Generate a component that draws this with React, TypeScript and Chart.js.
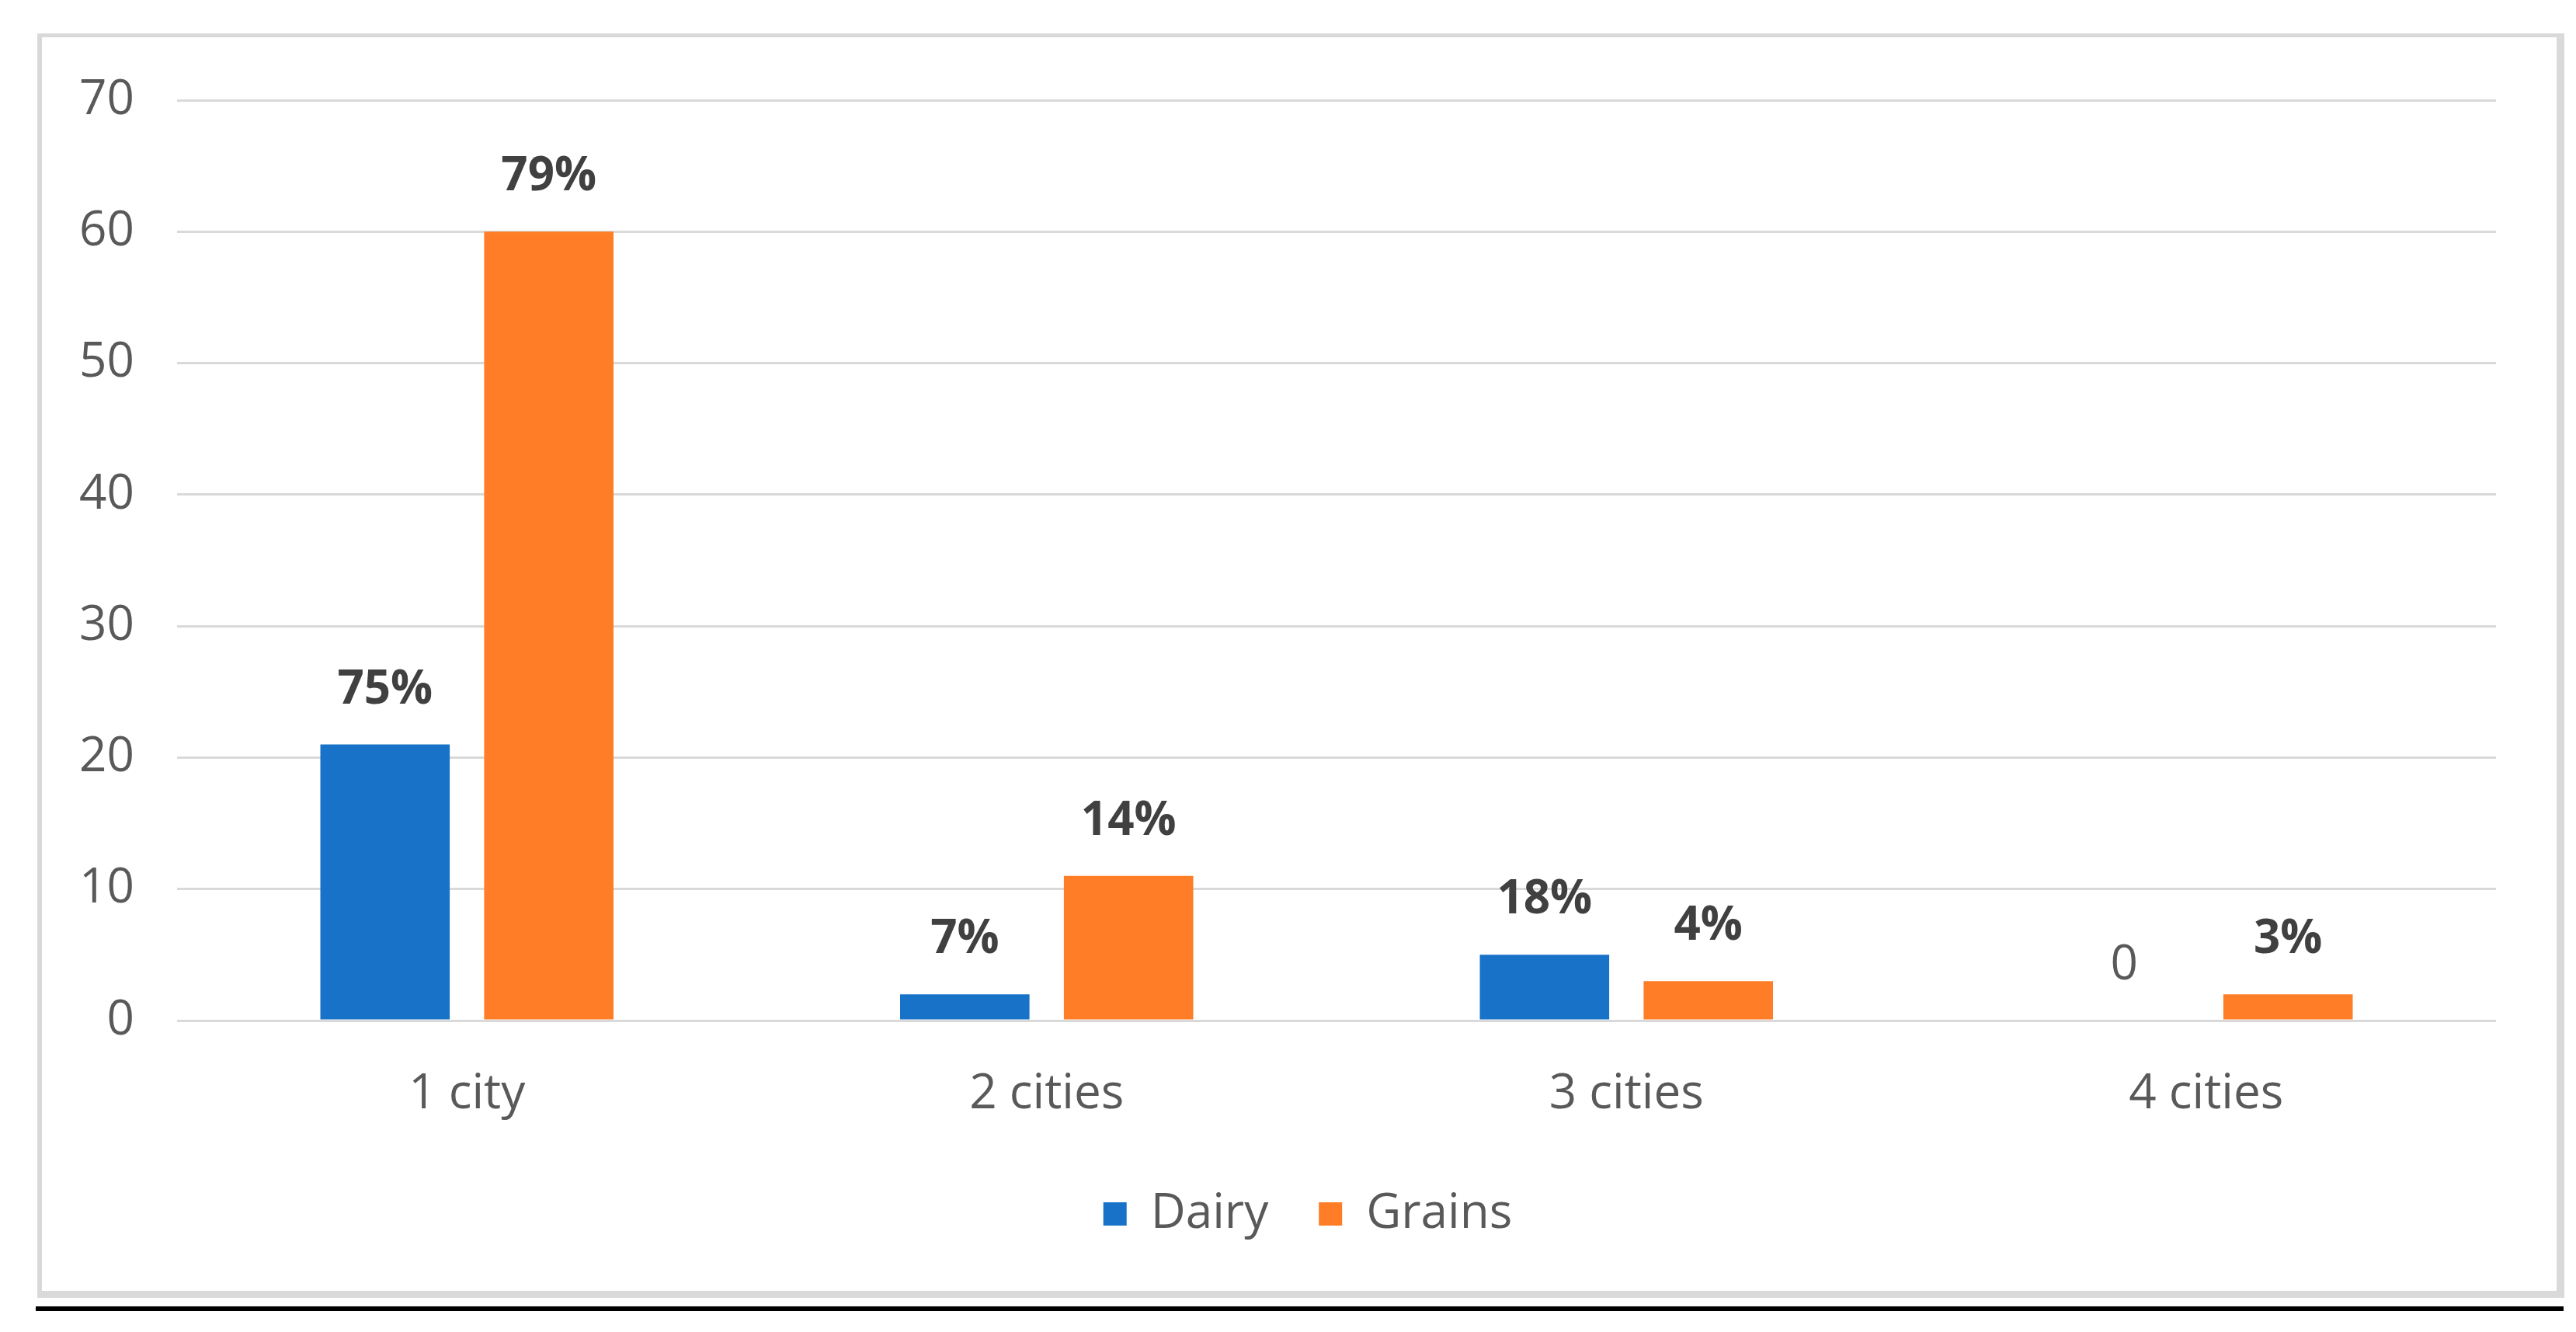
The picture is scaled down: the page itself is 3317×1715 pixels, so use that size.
import React, { useEffect, useRef } from "react";
import { Chart, registerables } from "chart.js";

Chart.register(...registerables);

const categories = ["1 city", "2 cities", "3 cities", "4 cities"];
const seriesNames = ["Dairy", "Grains"];
const dairyValues = [21, 2, 5, 0];
const grainsValues = [60, 11, 3, 2];
const dairyLabels = ["75%", "7%", "18%", "0"];
const grainsLabels = ["79%", "14%", "4%", "3%"];
const yMin = 0;
const yMax = 70;
const yStep = 10;

const seriesColors = ["#1772c8", "#fe7d26"];
const FONT = "'Open Sans', 'Noto Sans', sans-serif";

const dataLabelPlugin = {
  id: "dataLabels",
  afterDatasetsDraw(chart: any) {
    const ctx = chart.ctx;
    const labelSets = [dairyLabels, grainsLabels];
    chart.data.datasets.forEach((ds: any, di: number) => {
      const meta = chart.getDatasetMeta(di);
      meta.data.forEach((el: any, i: number) => {
        const text = labelSets[di][i];
        if (!text) return;
        const isPct = text.endsWith("%");
        ctx.save();
        ctx.font = isPct ? `bold 60px ${FONT}` : `62px ${FONT}`;
        ctx.fillStyle = isPct ? "#404040" : "#595959";
        ctx.textAlign = "center";
        ctx.textBaseline = "alphabetic";
        ctx.fillText(text, el.x, el.y - 53);
        ctx.restore();
      });
    });
  },
};

// centre the legend on the whole chart frame rather than on the canvas minus padding
const legendCenterPlugin = {
  id: "legendCenter",
  afterLayout(chart: any) {
    const lg = chart.legend;
    if (!lg) return;
    const target = 1684;
    const shift = target - (lg.left + lg.right) / 2;
    lg.left += shift;
    lg.right += shift;
  },
};

export default function App() {
  const canvasRef = useRef<HTMLCanvasElement | null>(null);

  useEffect(() => {
    if (!canvasRef.current) return;
    const chart = new Chart(canvasRef.current, {
      type: "bar",
      data: {
        labels: categories,
        datasets: [
          {
            label: seriesNames[0],
            data: dairyValues,
            backgroundColor: seriesColors[0],
            categoryPercentage: 0.565,
            barPercentage: 0.79,
          },
          {
            label: seriesNames[1],
            data: grainsValues,
            backgroundColor: seriesColors[1],
            categoryPercentage: 0.565,
            barPercentage: 0.79,
          },
        ],
      },
      options: {
        responsive: false,
        animation: false,
        devicePixelRatio: 1,
        layout: { padding: { left: 0, right: 103, top: 129, bottom: 111 } },
        plugins: {
          tooltip: { enabled: false },
          legend: {
            position: "bottom",
            labels: {
              boxWidth: 30,
              boxHeight: 30,
              padding: 65,
              color: "#595959",
              font: { family: FONT, size: 62 },
            },
          },
        },
        scales: {
          x: {
            grid: { display: false },
            border: { display: false },
            ticks: {
              color: "#595959",
              font: { family: FONT, size: 62 },
              padding: 50,
              maxRotation: 0,
            },
            afterFit: (scale: any) => {
              scale.height = 153;
            },
          },
          y: {
            min: yMin,
            max: yMax,
            grid: { color: "#d9d9d9", lineWidth: 3, drawTicks: false },
            border: { display: false },
            ticks: {
              stepSize: yStep,
              color: "#595959",
              font: { family: FONT, size: 62 },
              padding: 55,
            },
            afterFit: (scale: any) => {
              scale.width = 228;
            },
          },
        },
      },
      plugins: [dataLabelPlugin, legendCenterPlugin],
    });
    return () => chart.destroy();
  }, []);

  return (
    <div
      style={{
        position: "absolute",
        left: 0,
        top: 0,
        width: 3317,
        height: 1715,
        background: "#ffffff",
        overflow: "hidden",
      }}
    >
      <div
        style={{
          position: "absolute",
          left: 48,
          top: 43,
          width: 3254,
          height: 1628,
          boxSizing: "border-box",
          borderStyle: "solid",
          borderColor: "#d9d9d9",
          borderWidth: "5px 10px 9px 6px",
        }}
      />
      <div
        style={{
          position: "absolute",
          left: 46,
          top: 1682,
          width: 3255,
          height: 6,
          background: "#000000",
        }}
      />
      <canvas
        ref={canvasRef}
        width={3317}
        height={1715}
        style={{ position: "absolute", left: 0, top: 0, width: 3317, height: 1715 }}
      />
    </div>
  );
}
